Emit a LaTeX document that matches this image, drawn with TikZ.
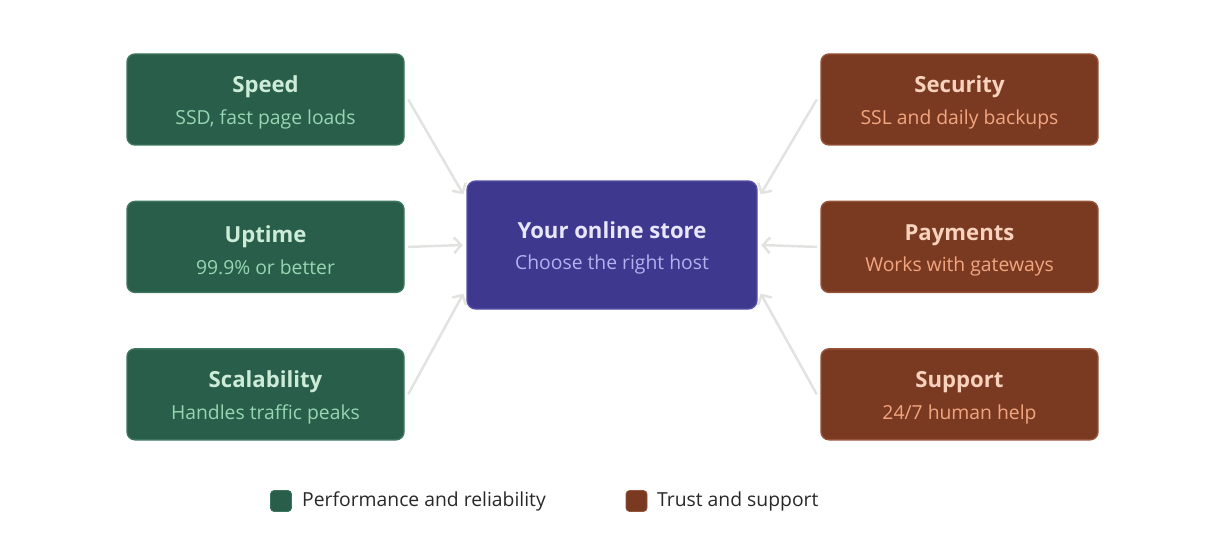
\documentclass[tikz,border=0pt]{standalone}
\usepackage{fontspec}
\setmainfont{Open Sans}
\usepackage{xcolor}
\usetikzlibrary{arrows.meta,positioning,calc}
\definecolor{perfGreen}{RGB}{40,94,74}
\definecolor{perfGreenEdge}{RGB}{60,118,94}
\definecolor{perfTitle}{RGB}{205,236,216}
\definecolor{perfSub}{RGB}{150,214,178}
\definecolor{trustBrown}{RGB}{122,58,34}
\definecolor{trustBrownEdge}{RGB}{150,84,58}
\definecolor{trustTitle}{RGB}{248,210,188}
\definecolor{trustSub}{RGB}{242,166,128}
\definecolor{storePurple}{RGB}{62,56,142}
\definecolor{storePurpleEdge}{RGB}{86,80,166}
\definecolor{storeTitle}{RGB}{232,230,250}
\definecolor{storeSub}{RGB}{182,176,240}
\definecolor{arrowGray}{RGB}{226,226,224}
\definecolor{legendText}{RGB}{40,40,40}
\tikzset{
  perfbox/.style={
    rectangle, rounded corners=4.5pt, draw=perfGreenEdge, line width=0.8pt,
    fill=perfGreen, minimum width=5.54cm, minimum height=1.82cm, align=center
  },
  trustbox/.style={
    rectangle, rounded corners=4.5pt, draw=trustBrownEdge, line width=0.8pt,
    fill=trustBrown, minimum width=5.54cm, minimum height=1.82cm, align=center
  },
  storebox/.style={
    rectangle, rounded corners=5pt, draw=storePurpleEdge, line width=0.8pt,
    fill=storePurple, minimum width=5.8cm, minimum height=2.56cm, align=center
  },
  legendsq/.style={rectangle, rounded corners=2pt, minimum size=0.42cm, inner sep=0pt},
  legendtxt/.style={anchor=west, inner sep=0pt, font=\fontsize{11}{13}\selectfont, text=legendText},
  feedArrow/.style={-{Straight Barb[length=4pt,width=9pt]}, line width=1.4pt, color=arrowGray}
}
\newcommand{\boxtext}[4]{%
  {\rule{0pt}{13pt}\fontsize{12.6}{15}\selectfont\bfseries\color{#1}#2}\\[6pt]%
  {\fontsize{11}{13}\selectfont\color{#3}#4}}

\begin{document}
\begin{tikzpicture}
  \useasboundingbox (0,0) rectangle (24.6,10.76);
  % centre
  \node[storebox] (store) at (12.24,5.86)
    {\boxtext{storeTitle}{Your online store}{storeSub}{Choose the right host}};
  % performance and reliability
  \node[perfbox] (speed) at (5.31,8.77)
    {\boxtext{perfTitle}{Speed}{perfSub}{SSD, fast page loads}};
  \node[perfbox, below=1.1cm of speed] (uptime)
    {\boxtext{perfTitle}{Uptime}{perfSub}{99.9\% or better}};
  \node[perfbox, below=1.1cm of uptime] (scale)
    {\boxtext{perfTitle}{Scalability}{perfSub}{Handles traffic peaks}};
  % trust and support
  \node[trustbox] (security) at (19.19,8.77)
    {\boxtext{trustTitle}{Security}{trustSub}{SSL and daily backups}};
  \node[trustbox, below=1.1cm of security] (payments)
    {\boxtext{trustTitle}{Payments}{trustSub}{Works with gateways}};
  \node[trustbox, below=1.1cm of payments] (support)
    {\boxtext{trustTitle}{Support}{trustSub}{24/7 human help}};
  % connectors
  \draw[feedArrow] ([xshift=2pt]speed.east) -- ($(store.north west)+(-0.06,-0.28)$);
  \draw[feedArrow] ([xshift=2pt]uptime.east) -- ([xshift=-2pt]store.west);
  \draw[feedArrow] ([xshift=2pt]scale.east) -- ($(store.south west)+(-0.06,0.32)$);
  \draw[feedArrow] ([xshift=-2pt]security.west) -- ($(store.north east)+(0.06,-0.28)$);
  \draw[feedArrow] ([xshift=-2pt]payments.west) -- ([xshift=2pt]store.east);
  \draw[feedArrow] ([xshift=-2pt]support.west) -- ($(store.south east)+(0.06,0.32)$);
  % legend
  \node[legendsq, fill=perfGreen, draw=perfGreenEdge] (perfkey) at (5.62,0.74) {};
  \node[legendtxt, right=0.2cm of perfkey] (perflabel) {Performance and reliability};
  \node[legendsq, fill=trustBrown, draw=trustBrownEdge] (trustkey) at (12.73,0.74) {};
  \node[legendtxt, right=0.19cm of trustkey] (trustlabel) {Trust and support};
\end{tikzpicture}
\end{document}
